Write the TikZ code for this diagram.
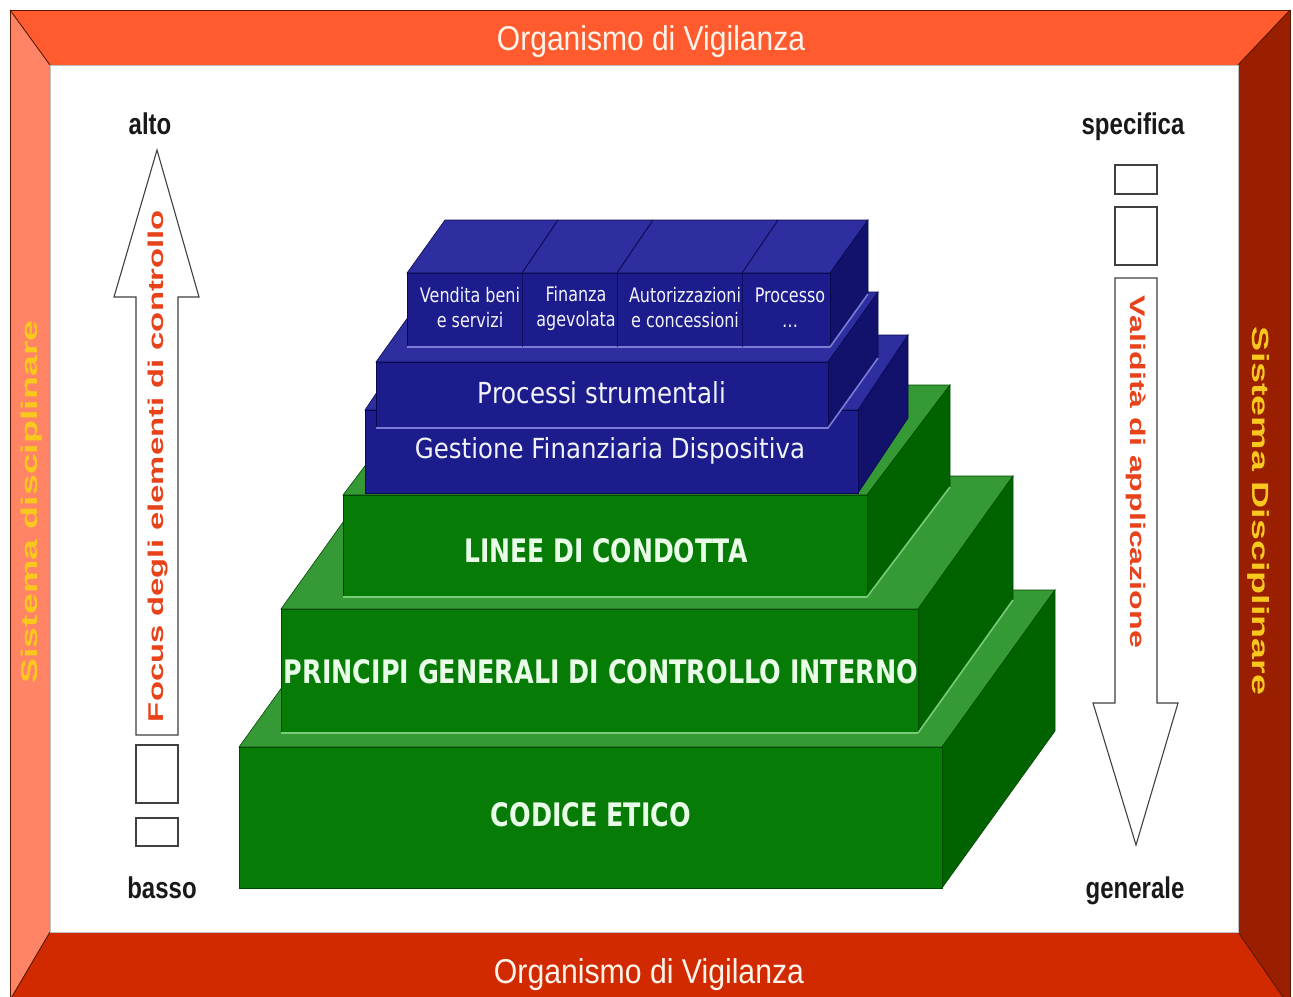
\documentclass[tikz,border=0pt]{standalone}
\usepackage{fontspec}
\setmainfont{Liberation Sans}
\newfontfamily\dvsans{DejaVu Sans}
\usepackage{graphicx}
\definecolor{fTop}{HTML}{FF5B2E}
\definecolor{fLeft}{HTML}{FF8466}
\definecolor{fRight}{HTML}{9A1E00}
\definecolor{fBot}{HTML}{D22A00}
\definecolor{fLine}{HTML}{5A1800}
\definecolor{gFront}{HTML}{067C06}
\definecolor{gTop}{HTML}{359A35}
\definecolor{gSide}{HTML}{006300}
\definecolor{gEdge}{HTML}{004A00}
\definecolor{gLight}{HTML}{78CC78}
\definecolor{bFront}{HTML}{1C1C8C}
\definecolor{bTop}{HTML}{2E2EA0}
\definecolor{bSide}{HTML}{12126C}
\definecolor{bEdge}{HTML}{0A0A50}
\definecolor{bLight}{HTML}{7C7CD8}
\definecolor{arrText}{HTML}{E8421A}
\definecolor{sysText}{HTML}{F8C81E}
\definecolor{ovText}{HTML}{FFF3EA}
\definecolor{gText}{HTML}{E8FCE8}
\definecolor{bText}{HTML}{F2F2FA}
% 3D box: x1 y1 x2 y2 dx dy frontstyle topstyle sidestyle
\newcommand{\tdbox}[9]{%
  \filldraw[#8] (#1,#2) -- (#3,#2) -- ++(#5,#6) -- ++({#1-#3},0) -- cycle;
  \filldraw[#9] (#3,#2) -- ++(#5,#6) -- ++(0,{#4-#2}) -- (#3,#4) -- cycle;
  \filldraw[#7] (#1,#2) rectangle (#3,#4);}
% seat line: x1 x2 y2 dx dy style
\newcommand{\seatline}[6]{\draw[#6] (#1,#3) -- (#2,#3) -- ++(#4,#5);}
\begin{document}
\begin{tikzpicture}[x=1pt,y=-1pt,
  gf/.style={fill=gFront,draw=gEdge,line width=0.6},
  gt/.style={fill=gTop,draw=gEdge,line width=0.6},
  gs/.style={fill=gSide,draw=gEdge,line width=0.6},
  bf/.style={fill=bFront,draw=bEdge,line width=0.6},
  bt/.style={fill=bTop,draw=bEdge,line width=0.6},
  bs/.style={fill=bSide,draw=bEdge,line width=0.6},
  gseat/.style={draw=gLight,line width=1.6},
  bseat/.style={draw=bLight,line width=1.6},
  arrowbox/.style={fill=white,draw=black!75,line width=1.1},
  lbl/.style={inner sep=0,anchor=base,text=black!90,font={\bfseries\fontsize{30}{30}\selectfont}},
  ovlbl/.style={inner sep=0,anchor=base,text=ovText},
  vlbl/.style={inner sep=0,anchor=center},
  gtext/.style={inner sep=0,anchor=base,text=gText},
  btext/.style={inner sep=0,anchor=base,text=bText},
  celltext/.style={inner sep=0,anchor=center,align=center,text=bText,
    font={\dvsans\fontsize{20}{25}\selectfont}},
  frameline/.style={draw=fLine,line width=0.9}
]
\useasboundingbox (0,0) rectangle (1293,996);
\fill[white] (0,0) rectangle (1293,996);
% frame
\fill[fTop] (10,10) -- (1290,10) -- (1238,65) -- (50,65) -- cycle;
\fill[fLeft] (10,10) -- (50,65) -- (50,932) -- (10,1000) -- cycle;
\fill[fRight] (1290,10) -- (1290,1000) -- (1285,1000) -- (1238,932) -- (1238,65) -- cycle;
\fill[fBot] (50,932) -- (1238,932) -- (1285,1000) -- (10,1000) -- cycle;
\draw[frameline] (10,1000) -- (10,10) -- (1290,10) -- (1290,1000);
\draw[frameline] (10,10) -- (50,65) (1290,10) -- (1238,65) (50,932) -- (10,1000) (1238,932) -- (1285,1000);
\draw[black!25,line width=0.8] (50,65) rectangle (1238,932);

\node[ovlbl] (ovtop) at (651,50) {\resizebox{308pt}{25pt}{Organismo di Vigilanza}};
\node[ovlbl] (ovbot) at (649,983) {\resizebox{310pt}{25pt}{Organismo di Vigilanza}};
\node[vlbl,rotate=90,text=sysText] (sysl) at (32,502) {\resizebox{363pt}{16.5pt}{\bfseries Sistema disciplinare}};
\node[vlbl,rotate=-90,text=sysText] (sysr) at (1259,511) {\resizebox{368pt}{17pt}{\bfseries Sistema Disciplinare}};

% left arrow
\draw[arrowbox] (136,735) -- (136,297) -- (114,297) -- (157,150) -- (199,297) -- (178,297) -- (178,735) -- cycle;
\draw[arrowbox] (136,745) rectangle (178,803);
\draw[arrowbox] (136,818) rectangle (178,846);
\node[vlbl,rotate=90,text=arrText] (focus) at (158,466) {\resizebox{512pt}{15.5pt}{\bfseries Focus degli elementi di controllo}};
% right arrow
\draw[arrowbox] (1115,278) -- (1115,703) -- (1093,703) -- (1136,845) -- (1178,703) -- (1157,703) -- (1157,278) -- cycle;
\draw[arrowbox] (1115,165) rectangle (1157,194);
\draw[arrowbox] (1115,207) rectangle (1157,265);
\node[vlbl,rotate=-90,text=arrText] (valid) at (1136,472) {\resizebox{352pt}{15.5pt}{\bfseries Validit\`a di applicazione}};

\node[lbl] (alto) at (150,134) {\scalebox{0.8}[1]{alto}};
\node[lbl] (basso) at (162,898) {\scalebox{0.8}[1]{basso}};
\node[lbl] (spec) at (1133,134) {\scalebox{0.8}[1]{specifica}};
\node[lbl] (gen) at (1135,898) {\scalebox{0.8}[1]{generale}};

% green steps
\tdbox{239}{747}{942}{888}{113}{-157}{gf}{gt}{gs}
\tdbox{281}{609}{918}{733}{95}{-133}{gf}{gt}{gs}
\seatline{281}{918}{733}{95}{-133}{gseat}
\tdbox{343}{495}{867}{597}{83}{-110}{gf}{gt}{gs}
\seatline{343}{867}{597}{83}{-110}{gseat}
% blue blocks
\tdbox{365}{410}{858}{493}{50}{-75}{bf}{bt}{bs}
\tdbox{376}{362}{828}{428}{50}{-70}{bf}{bt}{bs}
\seatline{376}{828}{428}{50}{-70}{bseat}
\tdbox{407}{273}{830}{347}{38}{-53}{bf}{bt}{bs}
\seatline{407}{830}{347}{38}{-53}{bseat}
\foreach \sx in {522,617,742}{
  \draw[bEdge,line width=0.9] (\sx,273) -- ++(36,-53);
  \draw[bEdge!70!bFront,line width=0.8] (\sx,273) -- (\sx,347);
}

\node[gtext] (codice) at (591,826) {\resizebox{200pt}{24pt}{\dvsans\bfseries CODICE ETICO}};
\node[gtext] (principi) at (601,683) {\resizebox{634pt}{24pt}{\dvsans\bfseries PRINCIPI GENERALI DI CONTROLLO INTERNO}};
\node[gtext] (linee) at (606,562) {\resizebox{283pt}{24pt}{\dvsans\bfseries LINEE DI CONDOTTA}};
\node[btext] (gestione) at (610,458) {\resizebox{390pt}{21pt}{\dvsans Gestione Finanziaria Dispositiva}};
\node[btext] (processi) at (602,403) {\resizebox{248pt}{22pt}{\dvsans Processi strumentali}};

\node[celltext] (c1) at (470,308) {\scalebox{0.8}[1]{Vendita beni}\\\scalebox{0.8}[1]{e servizi}};
\node[celltext] (c2) at (576,308) {\scalebox{0.8}[1]{Finanza}\\\scalebox{0.8}[1]{agevolata}};
\node[celltext] (c3) at (685,308) {\scalebox{0.8}[1]{Autorizzazioni}\\\scalebox{0.8}[1]{e concessioni}};
\node[celltext] (c4) at (790,308) {\scalebox{0.8}[1]{Processo}\\\scalebox{0.8}[1]{\dots}};
\end{tikzpicture}
\end{document}
